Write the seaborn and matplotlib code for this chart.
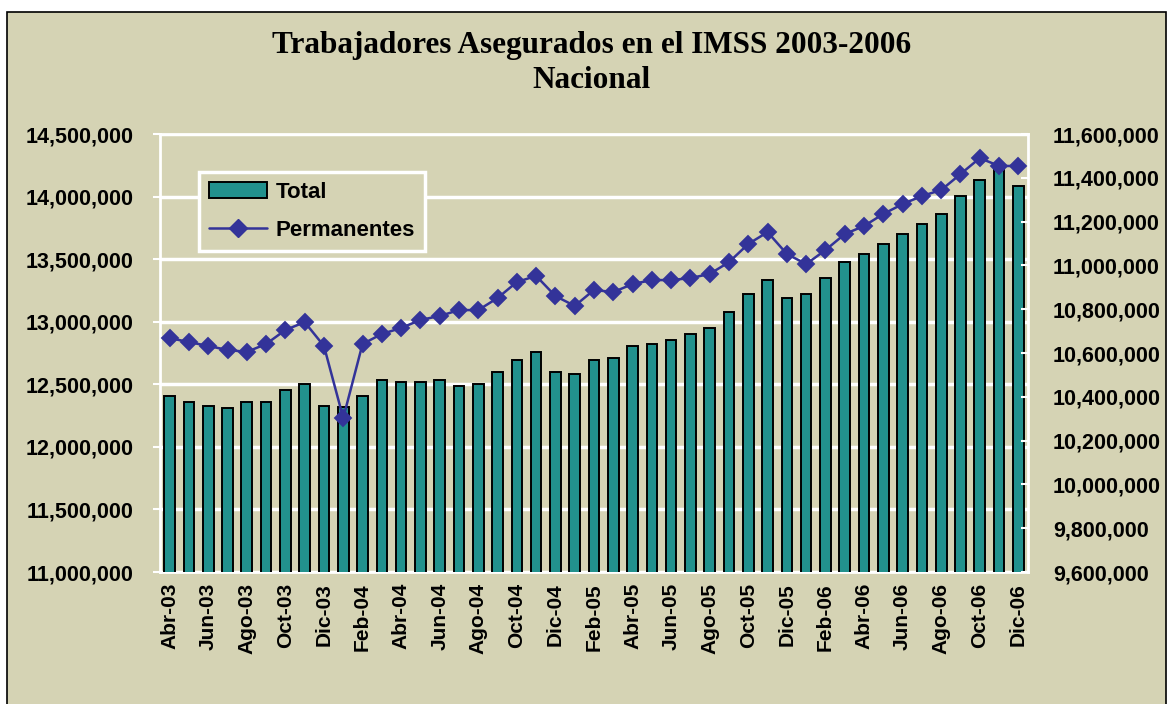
import pandas as pd
import numpy as np
import seaborn as sns
import matplotlib.pyplot as plt
from matplotlib.patches import Rectangle, Patch
from matplotlib.lines import Line2D
from matplotlib.ticker import FuncFormatter, MultipleLocator

meses = ["Ene", "Feb", "Mar", "Abr", "May", "Jun", "Jul", "Ago", "Sep", "Oct", "Nov", "Dic"]
periodos = [f"{m}-{a:02d}" for a in range(3, 7) for m in meses][3:]

total = [12406000, 12358000, 12326000, 12310000, 12358000, 12358000, 12454000, 12502000, 12326000,
         12320000, 12406000, 12534000, 12518000, 12518000, 12534000, 12486000, 12502000, 12598000,
         12694000, 12758000, 12598000, 12582000, 12694000, 12710000, 12806000, 12822000, 12854000,
         12902000, 12950000, 13078000, 13221000, 13333000, 13189000, 13221000, 13349000, 13477000,
         13541000, 13621000, 13701000, 13781000, 13861000, 14004000, 14132000, 14240000, 14085000]

permanentes = [10668000, 10650000, 10632000, 10614000, 10605000, 10641000, 10705000, 10741000, 10632000,
               10303000, 10641000, 10687000, 10714000, 10751000, 10769000, 10796000, 10796000, 10851000,
               10924000, 10952000, 10860000, 10815000, 10888000, 10878000, 10915000, 10933000, 10933000,
               10942000, 10961000, 11015000, 11098000, 11152000, 11052000, 11006000, 11070000, 11143000,
               11180000, 11235000, 11280000, 11317000, 11344000, 11417000, 11490000, 11454000, 11454000]

df = pd.DataFrame({"periodo": periodos, "Total": total, "Permanentes": permanentes})

bg = "#D5D3B4"
teal = "#22918D"
azul = "#333399"

sns.set_style("white")
plt.rcParams["font.family"] = ["Liberation Sans", "DejaVu Sans"]
plt.rcParams["text.color"] = "black"
plt.rcParams["xtick.color"] = "black"
plt.rcParams["ytick.color"] = "black"

fig = plt.figure(figsize=(11.74, 7.04), dpi=100)
fig.patch.set_facecolor("white")
fig.add_artist(Rectangle((7 / 1174, -0.01), 1159 / 1174, 1 - 12 / 704 + 0.01,
                         transform=fig.transFigure, facecolor=bg, edgecolor="black", lw=1.2, zorder=0))

ax = fig.add_axes([160 / 1174, 1 - 572 / 704, 868 / 1174, 438 / 704])
ax.set_facecolor(bg)

sns.barplot(data=df, x="periodo", y="Total", color=teal, width=0.55,
            edgecolor="black", linewidth=1.4, saturation=1, ax=ax, zorder=3)
ax.set_ylim(11000000, 14500000)
ax.set_xlim(-0.5, 44.5)
ax.yaxis.set_major_locator(MultipleLocator(500000))
ax.yaxis.set_major_formatter(FuncFormatter(lambda v, p: f"{int(v):,}"))
ax.grid(axis="y", color="white", lw=2.5, zorder=0)
ax.set_axisbelow(True)
for s in ax.spines.values():
    s.set_color("white")
    s.set_linewidth(2)
ax.set_xlabel("")
ax.set_ylabel("")

ax.set_xticks(np.arange(0, 45, 2))
ax.set_xticklabels(periodos[::2], rotation=90, fontsize=15, fontweight="bold")
ax.set_xticks(np.arange(-0.5, 45, 1), minor=True)
ax.tick_params(axis="x", which="major", length=0, pad=8, labelcolor="black")
ax.tick_params(axis="x", which="minor", length=6, width=1, color="#333333", direction="out")
ax.tick_params(axis="y", labelsize=15.5, length=5, width=1.5, color="white", pad=14, labelcolor="black")
for t in ax.get_yticklabels():
    t.set_fontweight("bold")

ax2 = ax.twinx()
sns.pointplot(data=df, x="periodo", y="Permanentes", color=azul, markers="D",
              markersize=8, linewidth=1.8, ax=ax2)
ax2.set_xlim(-0.5, 44.5)
ax2.set_ylim(9600000, 11600000)
ax2.yaxis.set_major_locator(MultipleLocator(200000))
ax2.yaxis.set_major_formatter(FuncFormatter(lambda v, p: f"{int(v):,}"))
ax2.set_ylabel("")
ax2.set_xlabel("")
for s in ax2.spines.values():
    s.set_visible(False)
ax2.tick_params(axis="y", labelsize=15.5, length=5, width=1.5, color="white", direction="in",
                pad=18, labelcolor="black")
for t in ax2.get_yticklabels():
    t.set_fontweight("bold")

fig.text(0.504, 1 - 45 / 704, "Trabajadores Asegurados en el IMSS 2003-2006", ha="center", va="center",
         fontsize=22.5, fontweight="bold", family="Liberation Serif")
fig.text(0.504, 1 - 80 / 704, "Nacional", ha="center", va="center",
         fontsize=22.5, fontweight="bold", family="Liberation Serif")

handles = [Patch(facecolor=teal, edgecolor="black", lw=1.4),
           Line2D([0], [0], color=azul, lw=1.8, marker="D", markersize=9)]
leg = ax2.legend(handles, ["Total", "Permanentes"], loc="upper left",
                 bbox_to_anchor=((199 - 160) / 868, (572 - 172) / 438), borderaxespad=0,
                 prop={"weight": "bold", "size": 16}, frameon=True, fancybox=False,
                 handlelength=2.6, borderpad=0.45, labelspacing=0.75, handletextpad=0.4)
leg.get_frame().set_facecolor(bg)
leg.get_frame().set_edgecolor("white")
leg.get_frame().set_linewidth(2.5)
leg.get_frame().set_alpha(1)

fig.savefig("out.png", dpi=100)
